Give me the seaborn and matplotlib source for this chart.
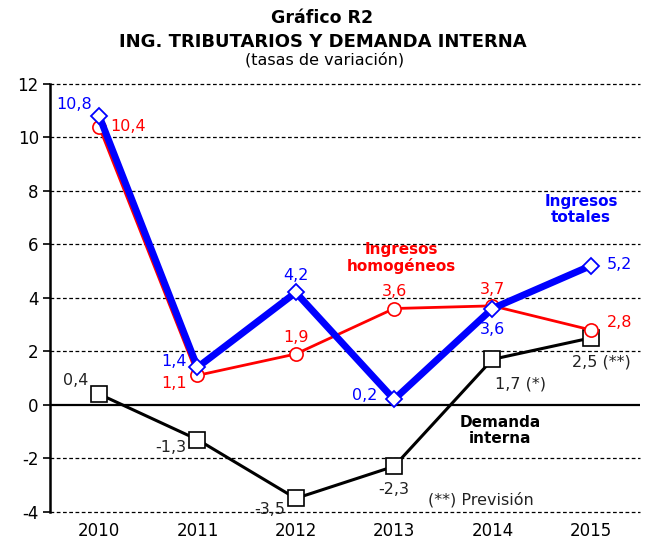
import matplotlib
matplotlib.use("Agg")
import matplotlib.pyplot as plt
import seaborn as sns
import pandas as pd

years = ["2010", "2011", "2012", "2013", "2014", "2015"]
ing_totales = [10.8, 1.4, 4.2, 0.2, 3.6, 5.2]
ing_homog = [10.4, 1.1, 1.9, 3.6, 3.7, 2.8]
demanda = [0.4, -1.3, -3.5, -2.3, 1.7, 2.5]
lab_totales = ["10,8", "1,4", "4,2", "0,2", "3,6", "5,2"]
lab_homog = ["10,4", "1,1", "1,9", "3,6", "3,7", "2,8"]
lab_demanda = ["0,4", "-1,3", "-3,5", "-2,3", "1,7 (*)", "2,5 (**)"]
yticks = [-4, -2, 0, 2, 4, 6, 8, 10, 12]

sns.set_style("white")
plt.rcParams['font.family'] = ['DejaVu Sans']
plt.rcParams['text.color'] = 'black'
plt.rcParams['xtick.color'] = 'black'
plt.rcParams['ytick.color'] = 'black'

fig = plt.figure(figsize=(6.49, 5.41), dpi=100)
ax = fig.add_axes([0.077, 0.054, 0.909, 0.791])

xs = list(range(len(years)))
df = pd.DataFrame({"x": xs, "tot": ing_totales, "hom": ing_homog, "dem": demanda})

for yv in yticks:
    if yv == 0:
        ax.axhline(0, color="black", lw=1.6, zorder=1)
    else:
        ax.axhline(yv, color="black", lw=0.9, ls=(0, (3, 2)), zorder=1, clip_on=False)

sns.lineplot(data=df, x="x", y="dem", ax=ax, color="black", lw=2.2, marker="s",
             markersize=11, markerfacecolor="white", markeredgecolor="black",
             markeredgewidth=1.2, zorder=3)
sns.lineplot(data=df, x="x", y="hom", ax=ax, color="#ff0000", lw=2.0, marker="o",
             markersize=9.5, markerfacecolor="white", markeredgecolor="#ff0000",
             markeredgewidth=1.2, zorder=4)
sns.lineplot(data=df, x="x", y="tot", ax=ax, color="#0000ff", lw=5, marker="D",
             markersize=8, markerfacecolor="white", markeredgecolor="#0000ff",
             markeredgewidth=1.3, zorder=5)

fs = 11.5
off_tot = [(-18, 8), (-17, 4), (0, 12), (-21, 3), (0, -15), (21, 1)]
off_hom = [(21, 0), (-17, -6), (0, 12), (0, 12), (0, 12), (21, 5)]
off_dem = [(-17, 10), (-19, -6), (-19, -8), (0, -17), (20, -18), (8, -17)]
for i in xs:
    ax.annotate(lab_totales[i], (i, ing_totales[i]), xytext=off_tot[i], textcoords="offset points",
                ha="center", va="center", color="#0000ff", fontsize=fs, zorder=6)
    ax.annotate(lab_homog[i], (i, ing_homog[i]), xytext=off_hom[i], textcoords="offset points",
                ha="center", va="center", color="#ff0000", fontsize=fs, zorder=6)
    ax.annotate(lab_demanda[i], (i, demanda[i]), xytext=off_dem[i], textcoords="offset points",
                ha="center", va="center", color="#222222", fontsize=fs, zorder=6)

ax.text(4.9, 7.3, "Ingresos\ntotales", color="#0000ff", fontsize=11, fontweight="bold",
        ha="center", va="center", linespacing=1.1)
ax.text(3.07, 5.5, "Ingresos\nhomogéneos", color="#ff0000", fontsize=11, fontweight="bold",
        ha="center", va="center", linespacing=1.1)
ax.text(4.08, -0.95, "Demanda\ninterna", color="black", fontsize=11, fontweight="bold",
        ha="center", va="center", linespacing=1.1)
ax.text(3.88, -3.55, "(**) Previsión", color="#222222", fontsize=fs, ha="center", va="center")

ax.set_xlim(-0.5, 5.5)
ax.set_ylim(-4, 12)
ax.set_yticks(yticks)
ax.set_yticklabels([str(v) for v in yticks], fontsize=12)
ax.set_xticks(xs)
ax.set_xticklabels(years, fontsize=12)
ax.set_xlabel("")
ax.set_ylabel("")
for s in ["top", "right", "bottom"]:
    ax.spines[s].set_visible(False)
ax.spines["left"].set_color("black")
ax.spines["left"].set_linewidth(1.8)
ax.tick_params(axis="y", length=5, width=1.2, color="black", left=True, direction="out", pad=3)
ax.tick_params(axis="x", length=0, pad=7)

fig.text(0.497, 0.966, "Gráfico R2", ha="center", va="center", fontsize=12.5, fontweight="bold")
fig.text(0.497, 0.922, "ING. TRIBUTARIOS Y DEMANDA INTERNA", ha="center", va="center",
         fontsize=13, fontweight="bold")
fig.text(0.50, 0.889, "(tasas de variación)", ha="center", va="center", fontsize=11.5)

fig.savefig("out.png", dpi=100)
